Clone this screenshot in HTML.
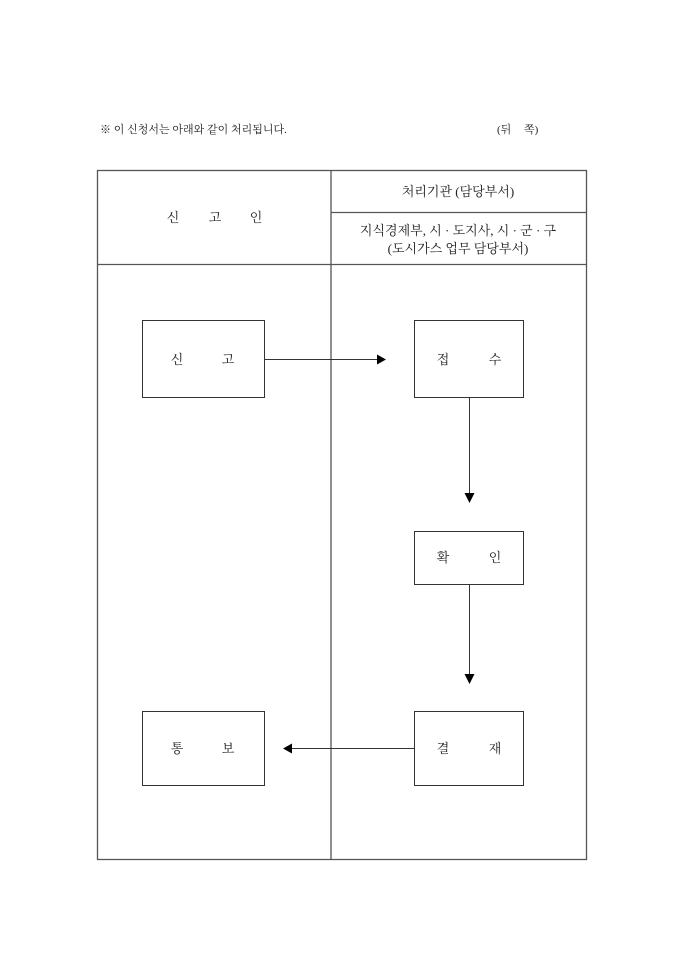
<!DOCTYPE html>
<html><head><meta charset="utf-8"><style>
body{margin:0;background:#fff;}
svg text{font-family:"Liberation Serif","Noto Serif CJK SC","Noto Sans CJK KR",serif;fill:#222;}
</style></head><body>
<svg width="680" height="962" viewBox="0 0 680 962" xmlns="http://www.w3.org/2000/svg">
<g font-size="11">
<text x="100" y="133">※ 이 신청서는 아래와 같이 처리됩니다.</text>
<text x="497" y="133">(뒤</text>
<text x="524" y="133">쪽)</text>
</g>
<g stroke="#555" stroke-width="1.3" fill="none">
<rect x="97.5" y="170.5" width="489" height="689"/>
<line x1="331" y1="170" x2="331" y2="860"/>
<line x1="97" y1="264.5" x2="586" y2="264.5"/>
<line x1="331" y1="212.5" x2="586" y2="212.5"/>
</g>
<g stroke="#333" stroke-width="1" fill="none">
<rect x="142.5" y="320.5" width="122" height="77"/>
<rect x="414.5" y="320.5" width="109" height="77"/>
<rect x="414.5" y="531.5" width="109" height="53"/>
<rect x="414.5" y="711.5" width="109" height="74"/>
<rect x="142.5" y="711.5" width="122" height="74"/>
<line x1="264" y1="359.5" x2="378" y2="359.5"/>
<line x1="469.5" y1="397" x2="469.5" y2="494"/>
<line x1="469.5" y1="584" x2="469.5" y2="674"/>
<line x1="414" y1="748.5" x2="291" y2="748.5"/>
</g>
<g fill="#000">
<polygon points="377,354.5 386,359.5 377,364.5"/>
<polygon points="464.5,493 474.5,493 469.5,503"/>
<polygon points="464.5,674 474.5,674 469.5,684"/>
<polygon points="292,743.5 283,748.5 292,753.5"/>
</g>
<g font-size="13" text-anchor="middle">
<text x="173" y="222">신</text><text x="215" y="222">고</text><text x="256" y="222">인</text>
<text x="458" y="196">처리기관 (담당부서)</text>
<text x="458" y="235">지식경제부, 시 · 도지사, 시 · 군 · 구</text>
<text x="458" y="253">(도시가스 업무 담당부서)</text>
<text x="177" y="364">신</text><text x="228" y="364">고</text>
<text x="443" y="364">접</text><text x="495" y="364">수</text>
<text x="443" y="562">확</text><text x="495" y="562">인</text>
<text x="443" y="753">결</text><text x="495" y="753">재</text>
<text x="177" y="753">통</text><text x="228" y="753">보</text>
</g>
</svg>
</body></html>
